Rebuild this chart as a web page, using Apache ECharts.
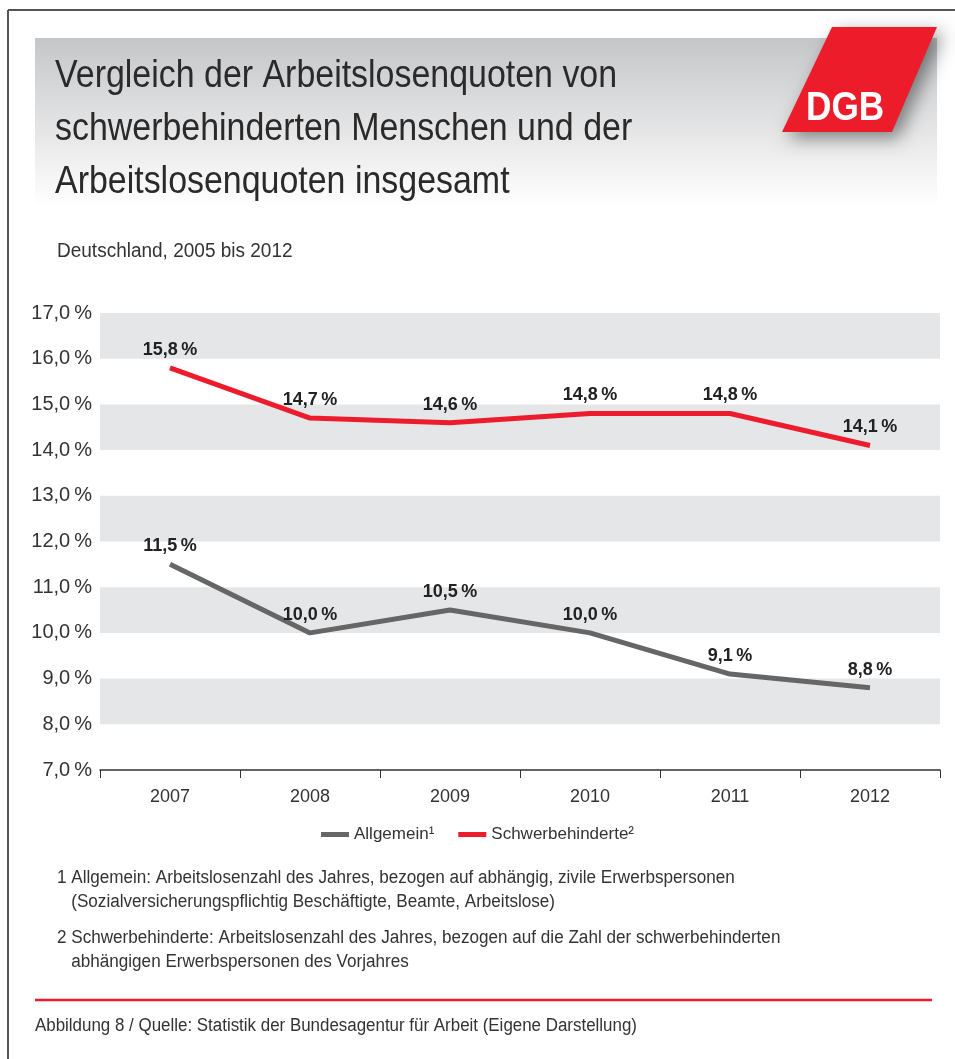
<!DOCTYPE html>
<html>
<head>
<meta charset="utf-8">
<script src="https://cdn.jsdelivr.net/npm/echarts@6/dist/echarts.min.js"></script>
<style>
  html, body { margin: 0; padding: 0; background: #fff; }
  #chart { width: 955px; height: 1059px; }
</style>
</head>
<body>
<div id="chart"></div>
<script>
    'use strict';
    // Werte
    var years = ['2007', '2008', '2009', '2010', '2011', '2012'];
    var allgemein = [11.5, 10.0, 10.5, 10.0, 9.1, 8.8];
    var schwerbehinderte = [15.8, 14.7, 14.6, 14.8, 14.8, 14.1];
    var seriesNames = ['Allgemein\u00b9', 'Schwerbehinderte\u00b2'];
    var yMin = 7, yMax = 17, yStep = 1;

    var titleLines = [
        'Vergleich der Arbeitslosenquoten von',
        'schwerbehinderten Menschen und der',
        'Arbeitslosenquoten insgesamt'
    ];
    var subtitle = 'Deutschland, 2005 bis 2012';
    var footnotes = [
        '1 Allgemein: Arbeitslosenzahl des Jahres, bezogen auf abhängig, zivile Erwerbspersonen',
        '   (Sozialversicherungspflichtig Beschäftigte, Beamte, Arbeitslose)',
        '2 Schwerbehinderte: Arbeitslosenzahl des Jahres, bezogen auf die Zahl der schwerbehinderten',
        '   abhängigen Erwerbspersonen des Vorjahres'
    ];
    var source = 'Abbildung 8 / Quelle: Statistik der Bundesagentur für Arbeit (Eigene Darstellung)';

    var FONT = "'Liberation Sans Narrow', 'Liberation Sans', Arial, sans-serif";
    var RED = '#ec1c2c';
    var GREY = '#666666';

    function fmt(v) {
        return v.toFixed(1).replace('.', ',') + '\u2009%';
    }

    var myChart = echarts.init(document.getElementById('chart'));

    var lineSeries = function (name, data, color) {
        return {
            name: name,
            type: 'line',
            data: data,
            symbol: 'circle',
            symbolSize: 0.1,
            showSymbol: true,
            lineStyle: { color: color, width: 5, cap: 'butt' },
            itemStyle: { color: color },
            label: {
                show: true,
                position: 'top',
                distance: 9,
                formatter: function (p) { return fmt(p.value); },
                fontFamily: FONT,
                fontWeight: 'bold',
                fontSize: 18,
                color: '#222'
            },
            z: 3
        };
    };

    // Text mit horizontaler Stauchung (schmale Schrift nachahmen)
    var txt = function (x, y, text, font, sx, fill, z) {
        return {
            type: 'text', x: x, y: y, scaleX: sx, z: z || 1,
            style: { text: text, fill: fill || '#333', font: font, textVerticalAlign: 'top' }
        };
    };

    var graphics = [
        // Rahmen
        { type: 'line', shape: { x1: 8, y1: 10, x2: 955, y2: 10 }, style: { stroke: '#555', lineWidth: 2 } },
        { type: 'line', shape: { x1: 8, y1: 10, x2: 8, y2: 1059 }, style: { stroke: '#555', lineWidth: 2 } },
        // Titelkasten mit Verlauf
        {
            type: 'rect', shape: { x: 35, y: 38, width: 902, height: 168 },
            style: {
                fill: new echarts.graphic.LinearGradient(0, 0, 0, 1, [
                    { offset: 0, color: '#c5c6c8' },
                    { offset: 1, color: '#ffffff' }
                ])
            },
            z: 0
        },
        // DGB Logo
        {
            type: 'polygon',
            shape: { points: [[832, 27], [937, 27], [892, 132], [782, 132]] },
            style: { fill: '#ed1c2b', shadowBlur: 18, shadowColor: 'rgba(0,0,0,0.45)', shadowOffsetX: 6, shadowOffsetY: 6 },
            z: 2
        },
        txt(806, 89, 'DGB', "bold 40px 'Liberation Sans', Arial, sans-serif", 0.88, '#fff', 3),
        // Untertitel
        txt(57, 241, subtitle, '20px ' + FONT, 0.95),
        // rote Trennlinie
        { type: 'line', shape: { x1: 35, y1: 1000, x2: 932, y2: 1000 }, style: { stroke: RED, lineWidth: 2.5 } },
        txt(35, 1017, source, '18px ' + FONT, 0.94)
    ];

    titleLines.forEach(function (t, i) {
        graphics.push(txt(55, 57 + i * 53, t, '39px ' + FONT, 0.87, '#2a2a2a', 2));
    });

    var footY = [869, 893, 929, 953];
    footnotes.forEach(function (t, i) {
        graphics.push(txt(57, footY[i], t, '18px ' + FONT, 0.95));
    });

    var option = {
        animation: false,
        backgroundColor: '#fff',
        grid: { left: 100, right: 15, top: 313, bottom: 289, containLabel: false },
        legend: {
            data: [
                { name: seriesNames[0], icon: 'rect' },
                { name: seriesNames[1], icon: 'rect' }
            ],
            top: 821,
            left: 'center',
            itemWidth: 28,
            itemHeight: 5,
            itemGap: 24,
            textStyle: { fontFamily: FONT, fontSize: 17, color: '#333' }
        },
        xAxis: {
            type: 'category',
            data: years,
            boundaryGap: true,
            axisLine: { lineStyle: { color: '#333', width: 1.5 } },
            axisTick: { show: true, length: 8, lineStyle: { color: '#333' } },
            axisLabel: { fontFamily: FONT, fontSize: 18, color: '#333', margin: 18 }
        },
        yAxis: {
            type: 'value',
            min: yMin,
            max: yMax,
            interval: yStep,
            axisLine: { show: false },
            axisTick: { show: false },
            splitLine: { show: false },
            splitArea: { show: true, areaStyle: { color: ['rgba(255,255,255,0)', '#e5e6e7'] } },
            axisLabel: {
                fontFamily: FONT, fontSize: 20, color: '#333', margin: 8,
                formatter: function (v) { return fmt(v); }
            }
        },
        series: [
            lineSeries(seriesNames[0], allgemein, GREY),
            lineSeries(seriesNames[1], schwerbehinderte, RED)
        ],
        graphic: graphics
    };

    myChart.setOption(option);
</script>
</body>
</html>
